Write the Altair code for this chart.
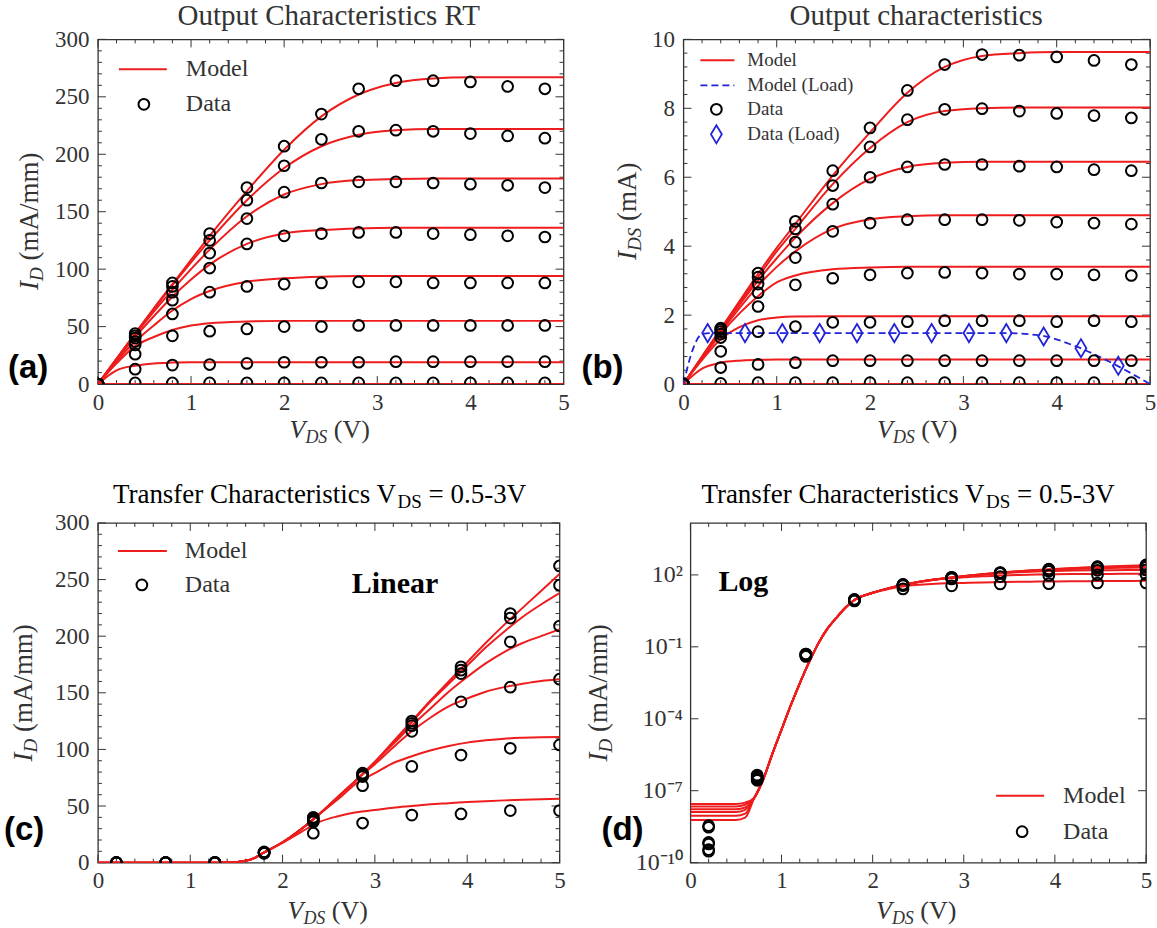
import altair as alt
import pandas as pd

SERIF = "Liberation Serif"
SANS = "Liberation Sans"
INK = "#333333"
RED = "#ee1c1c"
BLUE = "#2323d8"

# ------------------------------------------------------------------ data
# (a) Output characteristics RT, I_D in mA/mm, one row per gate step
A_VDS_DATA = [0.0, 0.4, 0.8, 1.2, 1.6, 2.0, 2.4, 2.8, 3.2, 3.6, 4.0, 4.4, 4.8]
A_ID_DATA = [
    [0, 44, 88, 131, 171, 207, 235, 257, 264, 264, 263, 259, 257],
    [0, 42, 85, 125, 160, 190, 213, 220, 221, 220, 218, 216, 214],
    [0, 40, 80, 114, 144, 167, 175, 176, 176, 175, 174, 173, 171],
    [0, 37, 73, 101, 122, 129, 131, 132, 132, 131, 130, 129, 128],
    [0, 34, 61, 80, 85, 87, 88, 89, 89, 88, 88, 88, 88],
    [0, 26, 42, 46, 48, 50, 50, 51, 51, 51, 51, 51, 51],
    [0, 13, 16.5, 17, 18, 19, 19, 19, 19.5, 19.5, 19.5, 19.5, 19.5],
    [0, 1, 1, 1, 1, 1, 1, 1, 1, 1, 1, 1, 1],
]
A_VDS_MODEL = [0.0, 0.2, 0.4, 0.6, 0.8, 1.0, 1.2, 1.6, 2.0, 2.4, 2.8, 3.2, 3.6, 4.0, 5.0]
A_ID_MODEL = [
    [0, 22, 44, 66, 87, 108, 129, 168, 204, 233, 252, 262, 266, 267, 267],
    [0, 22, 44, 65, 86, 106, 125, 160, 188, 207, 217, 221, 222, 222, 222],
    [0, 22, 43, 63, 82, 100, 117, 146, 165, 174, 177.5, 178.5, 179, 179, 179],
    [0, 21, 41, 59, 76, 91, 104, 122, 131, 134, 135.5, 136, 136, 136, 136],
    [0, 20, 37, 51, 64, 74, 81, 89, 92, 93.5, 94, 94, 94, 94, 94],
    [0, 18, 33, 41, 47, 51, 53, 54.5, 55, 55, 55, 55, 55, 55, 55],
    [0, 12, 16, 18, 18.7, 19, 19, 19, 19, 19, 19, 19, 19, 19, 19],
    [0, 0, 0, 0, 0, 0, 0, 0, 0, 0, 0, 0, 0, 0, 0],
]

# (b) Output characteristics, I_DS in mA
B_VDS_DATA = [0.0, 0.4, 0.8, 1.2, 1.6, 2.0, 2.4, 2.8, 3.2, 3.6, 4.0, 4.4, 4.8]
B_ID_DATA = [
    [0, 1.62, 3.22, 4.72, 6.19, 7.43, 8.52, 9.27, 9.56, 9.54, 9.49, 9.39, 9.27],
    [0, 1.58, 3.10, 4.50, 5.76, 6.88, 7.67, 7.97, 7.99, 7.92, 7.85, 7.79, 7.72],
    [0, 1.52, 2.90, 4.12, 5.22, 6.00, 6.30, 6.37, 6.37, 6.32, 6.30, 6.22, 6.19],
    [0, 1.45, 2.65, 3.67, 4.43, 4.67, 4.77, 4.77, 4.77, 4.75, 4.70, 4.67, 4.64],
    [0, 1.35, 2.25, 2.88, 3.07, 3.17, 3.22, 3.24, 3.22, 3.19, 3.19, 3.17, 3.15],
    [0, 0.95, 1.52, 1.67, 1.79, 1.79, 1.81, 1.84, 1.84, 1.84, 1.81, 1.84, 1.81],
    [0, 0.48, 0.57, 0.62, 0.68, 0.68, 0.68, 0.68, 0.68, 0.68, 0.68, 0.68, 0.68],
    [0, 0.02, 0.04, 0.04, 0.04, 0.04, 0.04, 0.04, 0.04, 0.04, 0.04, 0.04, 0.04],
]
B_VDS_MODEL = [0.0, 0.2, 0.4, 0.6, 0.8, 1.0, 1.2, 1.6, 2.0, 2.4, 2.8, 3.2, 3.6, 4.0, 5.0]
B_ID_MODEL = [
    [0, 0.80, 1.60, 2.40, 3.20, 3.95, 4.65, 6.05, 7.30, 8.45, 9.20, 9.52, 9.60, 9.63, 9.63],
    [0, 0.80, 1.58, 2.35, 3.10, 3.85, 4.50, 5.80, 6.85, 7.60, 7.92, 8.00, 8.02, 8.02, 8.02],
    [0, 0.78, 1.55, 2.30, 3.00, 3.65, 4.25, 5.25, 5.95, 6.30, 6.42, 6.45, 6.45, 6.45, 6.45],
    [0, 0.77, 1.50, 2.20, 2.85, 3.40, 3.85, 4.50, 4.78, 4.87, 4.90, 4.90, 4.90, 4.90, 4.90],
    [0, 0.75, 1.45, 2.05, 2.55, 2.95, 3.15, 3.33, 3.38, 3.40, 3.40, 3.40, 3.40, 3.40, 3.40],
    [0, 0.70, 1.30, 1.65, 1.85, 1.93, 1.96, 1.97, 1.97, 1.97, 1.97, 1.97, 1.97, 1.97, 1.97],
    [0, 0.45, 0.62, 0.68, 0.70, 0.71, 0.71, 0.71, 0.71, 0.71, 0.71, 0.71, 0.71, 0.71, 0.71],
    [0, 0, 0, 0, 0, 0, 0, 0, 0, 0, 0, 0, 0, 0, 0],
]
B_LOAD_VDS_DATA = [0.26, 0.66, 1.06, 1.46, 1.86, 2.26, 2.66, 3.06, 3.46, 3.86, 4.26, 4.66]
B_LOAD_ID_DATA = [1.48, 1.48, 1.48, 1.48, 1.48, 1.48, 1.48, 1.48, 1.48, 1.38, 1.04, 0.53]
B_LOAD_VDS_MODEL = [0.0, 0.1, 0.2, 0.3, 3.4, 3.8, 4.2, 4.6, 5.0]
B_LOAD_ID_MODEL = [0.0, 1.0, 1.45, 1.48, 1.48, 1.42, 1.10, 0.60, 0.0]

# (c)/(d) Transfer characteristics, V_DS = 3.0 ... 0.5 V, I_D in mA/mm
T_V_DATA = [0.2, 0.733, 1.267, 1.8, 2.333, 2.867, 3.4, 3.933, 4.467, 5.0]
T_ID_DATA = [
    [3.5e-9, 4.5e-7, 0.050, 9.5, 40, 79, 125, 173, 220, 262],
    [3.0e-9, 4.0e-7, 0.050, 9.2, 39, 78, 123, 170, 216, 245],
    [7.0e-10, 3.5e-7, 0.047, 9.0, 38, 77, 121, 167, 195, 209],
    [6.0e-10, 3.2e-7, 0.045, 8.8, 37, 76, 116, 142, 155, 162],
    [3.5e-10, 3.0e-7, 0.043, 8.5, 36, 68, 85, 95, 101, 104],
    [3.0e-10, 2.7e-7, 0.040, 8.2, 26, 35, 42, 43, 46, 46],
]
T_V_MODEL = [0.0, 0.5, 0.6, 0.7, 0.8, 0.9, 1.0, 1.1, 1.2, 1.3, 1.4, 1.5, 1.6, 1.7,
             1.8, 2.0, 2.2, 2.4, 2.6, 2.8, 3.0, 3.2, 3.4, 3.6, 3.8, 4.0, 4.2, 4.4,
             4.6, 4.8, 5.0]
T_SUB = [5e-8, 3e-7, 3.5e-6, 3.5e-5, 3.5e-4, 3e-3, 0.022, 0.13, 0.55, 1.6, 4.3]
T_ID_MODEL = [
    [2.8e-8, 2.8e-8, 3.2e-8] + T_SUB + [9, 18, 29.5, 43, 58, 73, 89, 107, 125, 143, 160, 177, 194, 210, 225, 240, 255],
    [2.2e-8, 2.2e-8, 2.6e-8] + T_SUB + [9, 18, 29.5, 43, 58, 73, 89, 106, 124, 142, 158, 174, 190, 204, 217, 228, 238],
    [1.7e-8, 1.7e-8, 2.0e-8] + T_SUB + [9, 18, 29.5, 43, 58, 73, 89, 105, 121, 136, 151, 164, 176, 186, 194, 200, 206],
    [1.3e-8, 1.3e-8, 1.6e-8] + T_SUB + [9, 18, 29.5, 43, 58, 73, 87, 102, 116, 128, 138, 145, 151, 155, 158, 160.5, 162],
    [9.0e-9, 9.0e-9, 1.1e-8] + T_SUB + [9, 18, 29.5, 43, 56, 70, 79, 88, 94, 99, 103, 106, 108, 109.5, 110.3, 110.8, 111],
    [6.0e-9, 6.0e-9, 7.5e-9] + T_SUB + [9, 17.5, 27, 36, 41, 44.5, 46.5, 48.5, 50, 51.5, 52.5, 53.5, 54.3, 55, 55.6, 56.1, 56.5],
]

# frame tick positions
X_MAJOR = [0, 1, 2, 3, 4, 5]
X_MINOR = [round(0.2 * i, 1) for i in range(26) if i % 5]
A_Y_MAJOR = list(range(0, 301, 50))
A_Y_MINOR = [v for v in range(0, 301, 10) if v % 50]
B_Y_MAJOR = [0, 2, 4, 6, 8, 10]
B_Y_MINOR = [round(0.4 * i, 1) for i in range(26) if i % 5]
D_Y_MAJOR = [1e-10, 1e-7, 1e-4, 1e-1, 1e2]

ONE = pd.DataFrame({"_": [0]})


def long_frame(xs, rows):
    return pd.DataFrame([{"x": x, "y": y, "k": i}
                         for i, r in enumerate(rows) for x, y in zip(xs, r)])


def axis(values, pad, expr=None, fmt="d", size=23):
    kw = dict(values=values, ticks=False, tickSize=0, domain=False, grid=False,
              labelFont=SERIF, labelFontSize=size, labelColor=INK, labelPadding=pad,
              labelFlush=False, labelOverlap=False, title=None)
    if expr:
        kw["labelExpr"] = expr
    else:
        kw["format"] = fmt
    return alt.Axis(**kw)


class Frame:
    """Scales and axes shared by every layer of one panel."""

    def __init__(self, origin, W, H, xs, ys, xa, ya):
        self.o, self.W, self.H = origin, W, H
        self.xs, self.ys, self.xa, self.ya = xs, ys, xa, ya

    def X(self, f):
        return alt.X(f, scale=self.xs, axis=self.xa)

    def Y(self, f):
        return alt.Y(f, scale=self.ys, axis=self.ya)

    def lines(self, df, color=RED, dash=None, width=2.0):
        props = dict(color=color, strokeWidth=width, interpolate="monotone", clip=True)
        if dash:
            props["strokeDash"] = dash
        return alt.Chart(df).mark_line(**props).encode(
            x=self.X("x:Q"), y=self.Y("y:Q"), detail="k:N")

    def points(self, df, style):
        return alt.Chart(df).mark_point(clip=True, **style).encode(
            x=self.X("x:Q"), y=self.Y("y:Q"))

    def ticks(self, xmaj, xmin, ymaj, ymin):
        W, H, out = self.W, self.H, []
        for vals, L in ((xmaj, 8), (xmin, 4)):
            if vals:
                base = alt.Chart(pd.DataFrame({"t": vals})).mark_rule(color=INK, strokeWidth=1)
                out += [base.encode(x=self.X("t:Q"), y=alt.value(H), y2=alt.value(H - L)),
                        base.encode(x=self.X("t:Q"), y=alt.value(0), y2=alt.value(L))]
        for vals, L in ((ymaj, 8), (ymin, 4)):
            if vals:
                base = alt.Chart(pd.DataFrame({"t": vals})).mark_rule(color=INK, strokeWidth=1)
                out += [base.encode(y=self.Y("t:Q"), x=alt.value(0), x2=alt.value(L)),
                        base.encode(y=self.Y("t:Q"), x=alt.value(W), x2=alt.value(W - L))]
        return out

    # --- pixel-placed annotations, given in page coordinates
    def text(self, x, y, s, size, font=SERIF, style="normal", weight="normal",
             align="left", baseline="alphabetic", angle=0, color=INK):
        return alt.Chart(ONE).mark_text(
            text=s, font=font, fontSize=size, fontStyle=style, fontWeight=weight,
            align=align, baseline=baseline, angle=angle, color=color,
        ).encode(x=alt.value(x - self.o[0]), y=alt.value(y - self.o[1]))

    def hline(self, x1, x2, y, color=RED, dash=None, width=2.0):
        props = dict(color=color, strokeWidth=width)
        if dash:
            props["strokeDash"] = dash
        return alt.Chart(ONE).mark_rule(**props).encode(
            x=alt.value(x1 - self.o[0]), x2=alt.value(x2 - self.o[0]),
            y=alt.value(y - self.o[1]))

    def glyph(self, x, y, style):
        return alt.Chart(ONE).mark_point(**style).encode(
            x=alt.value(x - self.o[0]), y=alt.value(y - self.o[1]))

    def anchor(self, x, y):
        # invisible point that pins the layout bounds of a row
        return alt.Chart(ONE).mark_rule(opacity=0, strokeWidth=0.01).encode(
            x=alt.value(x - self.o[0]), x2=alt.value(x - self.o[0]),
            y=alt.value(y - self.o[1]), y2=alt.value(y - self.o[1]))

    def vds_title(self, cx, base, big=26, small=18):
        wv, wds, wrest = 0.611 * big, 1.222 * small, 1.638 * big
        x0 = cx - (wv + wds + wrest) / 2
        return [self.text(x0, base, "V", big, style="italic"),
                self.text(x0 + wv, base + 5, "DS", small, style="italic"),
                self.text(x0 + wv + wds + 0.25 * big, base, "(V)", big)]

    def id_title(self, bx, cy, sub, sub_em, rest, rest_em, big=27, small=19):
        wi, wsub, wrest = 0.333 * big, sub_em * small, (0.25 + rest_em) * big
        y0 = cy + (wi + wsub + wrest) / 2
        return [self.text(bx, y0, "I", big, style="italic", angle=270),
                self.text(bx + 5, y0 - wi, sub, small, style="italic", angle=270),
                self.text(bx, y0 - wi - wsub - 0.25 * big, rest, big, angle=270)]

    def transfer_title(self, x0, base, big=27, small=19):
        w1 = 10.552 * big
        return [self.text(x0, base, "Transfer Characteristics V", big, color="black"),
                self.text(x0 + w1, base + 5, "DS", small, color="black"),
                self.text(x0 + w1 + 1.278 * small + 0.25 * big, base, "= 0.5-3V", big,
                          color="black")]

    def tag(self, x, base, s):
        return self.text(x, base, s, 33, font=SANS, weight="bold", color="black")


CIRCLE = dict(shape="circle", filled=False, color="black", size=115,
              strokeWidth=2, opacity=1)
DIAMOND = dict(shape="M0,-1L0.6,0L0,1L-0.6,0Z", filled=False, color=BLUE,
               size=330, strokeWidth=1.8, opacity=1)


def lin(lo, hi):
    return alt.Scale(domain=[lo, hi], nice=False, zero=False)


ROW_SPLIT = 460  # page y separating the two rows

# ------------------------------------------------------------------ (a)
fa = Frame((93, 38), 466, 345, lin(0, 5), lin(0, 300), axis(X_MAJOR, 7), axis(A_Y_MAJOR, 9))
panel_a = alt.layer(
    fa.anchor(0, 0),
    fa.anchor(0, ROW_SPLIT),
    *fa.ticks(X_MAJOR, X_MINOR, A_Y_MAJOR, A_Y_MINOR),
    fa.lines(long_frame(A_VDS_MODEL, A_ID_MODEL)),
    fa.points(long_frame(A_VDS_DATA, A_ID_DATA), CIRCLE),
    fa.hline(114, 162, 68),
    fa.glyph(139, 103, CIRCLE),
    fa.text(181, 68, "Model", 24, baseline="middle"),
    fa.text(181, 103, "Data", 24, baseline="middle"),
    fa.text(324, 24, "Output Characteristics RT", 29, align="center"),
    *fa.vds_title(325, 437),
    *fa.id_title(33, 220, "D", 0.722, "(mA/mm)", 4.0),
    fa.tag(3, 377, "(a)"),
).properties(width=fa.W, height=fa.H)

# ------------------------------------------------------------------ (b)
fb = Frame((679, 38), 467, 345, lin(0, 5), lin(0, 10), axis(X_MAJOR, 7), axis(B_Y_MAJOR, 9))
panel_b = alt.layer(
    *fb.ticks(X_MAJOR, X_MINOR, B_Y_MAJOR, B_Y_MINOR),
    fb.lines(long_frame(B_VDS_MODEL, B_ID_MODEL)),
    fb.lines(long_frame(B_LOAD_VDS_MODEL, [B_LOAD_ID_MODEL]), color=BLUE, dash=[7, 4], width=1.8),
    fb.points(long_frame(B_VDS_DATA, B_ID_DATA), CIRCLE),
    fb.points(long_frame(B_LOAD_VDS_DATA, [B_LOAD_ID_DATA]), DIAMOND),
    fb.hline(696, 730, 59),
    fb.hline(696, 730, 84, color=BLUE, dash=[7, 4], width=1.8),
    fb.glyph(712, 108, CIRCLE),
    fb.glyph(712, 133, DIAMOND),
    fb.text(743, 59, "Model", 19, baseline="middle"),
    fb.text(743, 84, "Model (Load)", 19, baseline="middle"),
    fb.text(743, 108, "Data", 19, baseline="middle"),
    fb.text(743, 133, "Data (Load)", 19, baseline="middle"),
    fb.text(912, 24, "Output characteristics", 29, align="center"),
    *fb.vds_title(913, 437),
    *fb.id_title(632, 210, "DS", 1.222, "(mA)", 2.166),
    fb.tag(577, 377, "(b)"),
).properties(width=fb.W, height=fb.H)

# ------------------------------------------------------------------ (c)
fc = Frame((97, 520), 462, 340, lin(0, 5), lin(0, 300), axis(X_MAJOR, 7), axis(A_Y_MAJOR, 9))
panel_c = alt.layer(
    fc.anchor(0, ROW_SPLIT),
    *fc.ticks(X_MAJOR, X_MINOR, A_Y_MAJOR, A_Y_MINOR),
    fc.lines(long_frame(T_V_MODEL, T_ID_MODEL)),
    fc.points(long_frame(T_V_DATA, T_ID_DATA), CIRCLE),
    fc.hline(117, 166, 548),
    fc.glyph(141, 582, CIRCLE),
    fc.text(184, 548, "Model", 24, baseline="middle"),
    fc.text(184, 582, "Data", 24, baseline="middle"),
    fc.text(351, 590, "Linear", 30, weight="bold", color="black"),
    *fc.transfer_title(112, 500),
    *fc.vds_title(327, 916),
    *fc.id_title(31, 690, "D", 0.722, "(mA/mm)", 4.0),
    fc.tag(3, 837, "(c)"),
).properties(width=fc.W, height=fc.H)

# ------------------------------------------------------------------ (d)
LOG_LABELS = ("datum.value > 10 ? '10\u00b2' : datum.value > 0.01 ? '10\u207b\u00b9' : "
              "datum.value > 1e-5 ? '10\u207b\u2074' : datum.value > 1e-8 ? '10\u207b\u2077' : "
              "'10\u207b\u00b9\u2070'")
fd = Frame((690, 520), 456, 340, lin(0, 5),
           alt.Scale(type="log", domain=[1e-10, 10 ** (4 + 4 / 24)], nice=False),
           axis(X_MAJOR, 7), axis(D_Y_MAJOR, 8, expr=LOG_LABELS, size=24))
panel_d = alt.layer(
    *fd.ticks(X_MAJOR, X_MINOR, D_Y_MAJOR, []),
    fd.lines(long_frame(T_V_MODEL, T_ID_MODEL)),
    fd.points(long_frame(T_V_DATA, T_ID_DATA), CIRCLE),
    fd.hline(996, 1044, 793),
    fd.glyph(1022, 829, CIRCLE),
    fd.text(1063, 793, "Model", 24, baseline="middle"),
    fd.text(1063, 829, "Data", 24, baseline="middle"),
    fd.text(718, 588, "Log", 30, weight="bold", color="black"),
    *fd.transfer_title(701, 500),
    *fd.vds_title(916, 916),
    *fd.id_title(607, 690, "D", 0.722, "(mA/mm)", 4.0),
    fd.tag(601, 837, "(d)"),
).properties(width=fd.W, height=fd.H)

top = alt.hconcat(panel_a, panel_b, spacing=120, bounds="flush")
bottom = alt.hconcat(panel_c, panel_d, spacing=131, bounds="flush")
chart = (
    alt.vconcat(top, bottom, spacing=0)
    .properties(padding=0, background="white")
    .configure_view(stroke=INK, strokeWidth=1.3)
)

chart.save("out.html", embed_options={"renderer": "svg", "actions": False})
